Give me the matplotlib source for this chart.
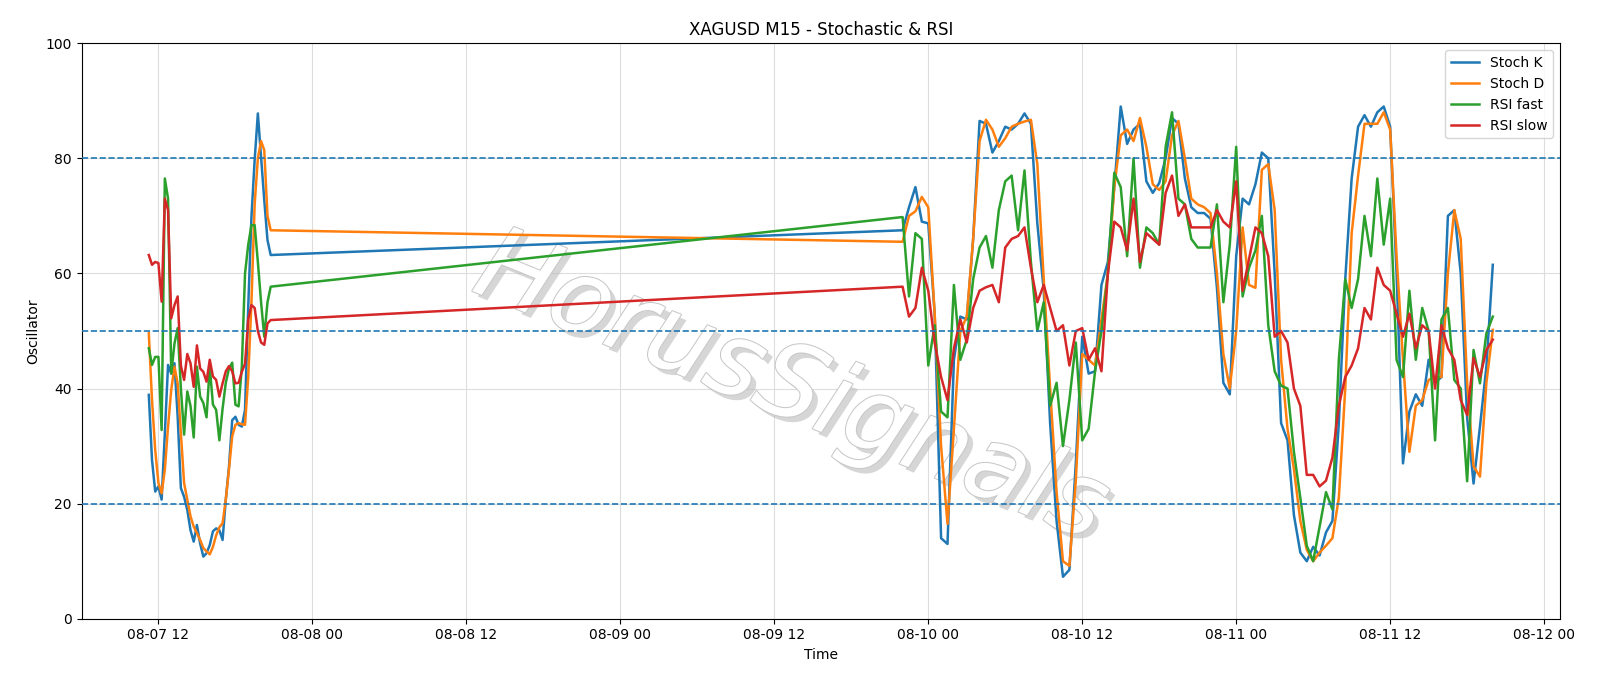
import matplotlib
matplotlib.use("Agg")
import matplotlib.pyplot as plt
import matplotlib.dates as mdates
import matplotlib.patheffects as pe
import pandas as pd
import numpy as np

# Segment 1: 15-min bars, 08-07 11:15 .. 20:45
t1 = pd.date_range("2025-08-07 11:15", periods=39, freq="15min")
k1 = [38.9, 27.6, 22.1, 23, 20.7, 32.2, 44.1, 42.6, 44.4, 35.1, 22.7, 21.2, 18.9, 15.4, 13.4, 16.3, 13.1, 10.8, 11.4, 12.8,
      15.2, 15.7, 15.4, 13.7, 20.7, 26.4, 34.5, 35.1, 33.7, 33.4, 36.3, 54.2, 69.8, 79.7, 87.8, 80.3, 72.7, 65.8, 63.2]
d1 = [49.6, 38, 29.3, 23.6, 21.8, 25.9, 33.4, 39.8, 43.8, 40.9, 32.2, 23.6, 20.7, 17.8, 16, 14.9, 13.7, 12.3, 11.7, 11.2,
      12.5, 14.5, 15.9, 16.6, 20.7, 26, 31.7, 33.7, 34, 33.8, 33.7, 42, 55, 72, 80, 83, 81.4, 70, 67.5]
f1 = [47, 44.1, 45.5, 45.5, 32.8, 76.5, 73, 42.6, 47.8, 50.5, 40, 32, 39.5, 37, 31.5, 43.8, 38.6, 37.5, 35, 43.8,
      37.2, 36.3, 31, 36.5, 41, 43.5, 44.5, 37.2, 36.9, 43.8, 60, 65, 68.4, 68.4, 62, 55, 49, 55, 57.7]
s1 = [63.2, 61.5, 62, 61.8, 55.1, 73, 71, 52.2, 54.5, 56, 44, 41.5, 46, 44.4, 40.3, 47.5, 43.5, 42.9, 41.2, 45,
      42.1, 41.5, 38.6, 40.9, 43, 43.9, 43, 40.9, 41, 42.9, 44.3, 52, 54.5, 54, 50, 48, 47.6, 51.3, 51.9]

# Segment 2: 08-09 22:00 .. 08-11 20:00 (read every 30 min)
t2 = pd.date_range("2025-08-09 22:00", periods=93, freq="30min")
k2 = [67.5, 71.5, 75, 69, 68.7, 53, 14, 13, 45, 52.5, 52, 66, 86.5, 86, 81, 83, 85.5, 85, 86, 87.8,
      86, 68.7, 57.1, 33.9, 17, 7.3, 8.5, 27, 49, 42.6, 43, 58, 62, 75, 89, 82.5, 85, 86, 76, 74,
      75.7, 80, 87, 86, 76.5, 71.5, 70.5, 70.5, 69.5, 57.5, 41, 39, 63, 73, 72, 75.5, 81, 80, 60, 34,
      31, 18, 11.5, 10, 12.5, 11, 15, 17, 34, 59, 76.5, 85.5, 87.5, 85.5, 88, 89, 85.5, 60, 27, 36,
      39, 37, 45, 41, 42, 70, 71, 60, 35, 23.5, 33.4, 43.8, 61.5]
d2 = [65.5, 70, 70.8, 73.3, 71.5, 53, 30, 16.5, 33, 50, 52.5, 66, 83, 86.7, 85, 82, 83.5, 85.5, 86, 86.4,
      86.7, 79, 59, 40, 22, 10, 9.2, 24, 46, 45, 44, 52, 60, 75, 84, 85, 83, 87, 82, 75.5,
      74.5, 76, 84, 86.5, 80, 73, 72, 71.5, 70.5, 60, 46, 40, 50, 68, 58, 57.5, 78, 79, 71, 45,
      33, 26, 17, 12, 10, 11.5, 12.7, 14, 21, 40, 67, 77, 86, 86, 86, 88, 85, 63, 45, 29,
      37, 38, 41.5, 42, 42, 60, 71, 66, 41, 26.5, 24.7, 41, 50.2]
f2 = [69.8, 56, 67, 66, 44, 51, 36, 35, 58, 45, 48.5, 59, 64.5, 66.5, 61, 71, 76, 77, 67.5, 77.9,
      62, 50, 55, 37, 41, 30, 38, 48, 31, 33, 43, 50, 60, 77.5, 75, 63, 80, 61, 68, 67,
      65, 82, 88, 73, 72, 66, 64.5, 64.5, 64.5, 72, 55, 65, 82, 56, 61, 64, 70, 51, 43, 40.5,
      40, 29, 21, 12.7, 10, 16, 22, 19, 45, 59, 54, 59, 70, 63, 76.5, 65, 73, 45, 42, 57,
      45, 54, 50, 31, 52, 54, 41.5, 40, 23.9, 46.7, 40.9, 49.6, 52.5]
s2 = [57.7, 52.5, 54, 61, 57, 48, 42, 38, 47, 52, 48, 54, 57, 57.6, 58, 55, 64.5, 66, 66.5, 68,
      61, 55, 58, 54, 50, 51, 44, 50, 50.5, 45, 47, 43, 60, 69, 68, 64, 73, 62, 67, 66,
      65, 74, 77, 70, 72, 68, 68, 68, 68, 71, 69, 68, 76, 57, 62.5, 68, 67, 63, 49, 50,
      48, 40, 37, 25, 25, 23, 24, 28, 37, 42, 44, 47, 54, 52, 61, 58, 57, 53, 49, 53,
      47, 51, 50, 40, 51, 47, 45, 38, 35.4, 45.3, 42, 46.7, 48.5]

times = list(t1) + list(t2)
stoch_k = k1 + k2
stoch_d = d1 + d2
rsi_fast = f1 + f2
rsi_slow = s1 + s2

fig = plt.figure(figsize=(16, 6.86), dpi=100)
ax = fig.add_axes([0.051, 0.098, 0.924, 0.839])
ax.plot(times, stoch_k, color="#1f77b4", lw=1.8, label="Stoch K", zorder=3)
ax.plot(times, stoch_d, color="#ff7f0e", lw=1.8, label="Stoch D", zorder=3)
ax.plot(times, rsi_fast, color="#2ca02c", lw=1.8, label="RSI fast", zorder=3)
ax.plot(times, rsi_slow, color="#d62728", lw=1.8, label="RSI slow", zorder=3)
for lvl in [80, 50, 20]:
    ax.axhline(lvl, color="#1f77b4", ls="--", lw=1.2, zorder=3)
ax.set_ylim(0, 100)
ax.grid(True, color="#dddddd", lw=0.8)
ax.xaxis.set_major_locator(mdates.HourLocator(byhour=[0, 12]))
ax.xaxis.set_major_formatter(mdates.DateFormatter("%m-%d %H"))
ax.tick_params(labelsize=10)
ax.set_title("XAGUSD M15 - Stochastic & RSI", fontsize=12)
ax.set_xlabel("Time", fontsize=10)
ax.set_ylabel("Oscillator", fontsize=10)
ax.legend(loc="upper right", fontsize=10)
ax.text(0.48, 0.40, "HorusSignals", transform=ax.transAxes, fontsize=74, rotation=-22,
        ha="center", va="center", color="white", style="italic", zorder=2,
        path_effects=[pe.withSimplePatchShadow(offset=(4, -4), shadow_rgbFace="#bbbbbb", alpha=0.6),
                      pe.withStroke(linewidth=1.5, foreground="#c8c8c8")])
fig.savefig("out.png", dpi=100)
